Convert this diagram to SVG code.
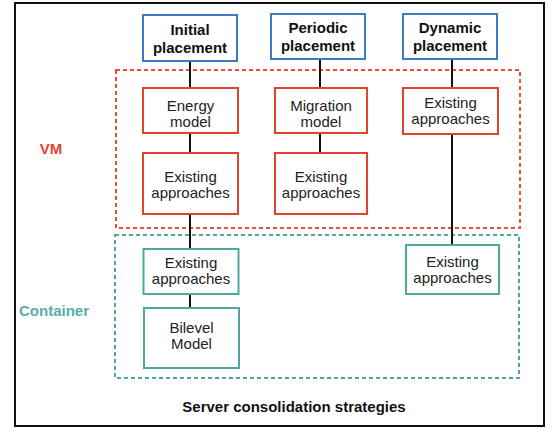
<svg xmlns="http://www.w3.org/2000/svg" width="560" height="436" viewBox="0 0 560 436">
<style>
text{font-family:"Liberation Sans",Arial,sans-serif;text-anchor:middle}
.t{font-size:15px;fill:#222}
.h{font-size:15px;font-weight:bold;fill:#111}
.blue{fill:#fff;stroke:#3d7cc4;stroke-width:2}
.red{fill:#fff;stroke:#e0432e;stroke-width:2}
.teal{fill:#fff;stroke:#4ea89f;stroke-width:2}
.con line{stroke:#111;stroke-width:2}
</style>
<rect x="15" y="3" width="529" height="423" fill="#fff" stroke="#111" stroke-width="2"/>
<g id="vm-group">
<rect x="116" y="70" width="404" height="158" fill="none" stroke="#e8503a" stroke-width="2" stroke-dasharray="4 3"/>
<text x="51" y="154" font-size="15" font-weight="bold" fill="#e0432e">VM</text>
</g>
<g id="container-group">
<rect x="115" y="235" width="404" height="143" fill="none" stroke="#4ea89f" stroke-width="2" stroke-dasharray="4 3"/>
<text x="54" y="316" font-size="15" font-weight="bold" fill="#55afa6">Container</text>
</g>
<g class="con" id="connectors">
<line x1="190" y1="61" x2="190" y2="88"/>
<line x1="190" y1="133" x2="190" y2="153"/>
<line x1="190" y1="214" x2="190" y2="249"/>
<line x1="190" y1="294" x2="190" y2="308"/>
<line x1="320" y1="59" x2="320" y2="88"/>
<line x1="320" y1="133" x2="320" y2="153"/>
<line x1="452" y1="59" x2="452" y2="88"/>
<line x1="452" y1="134" x2="452" y2="245"/>
</g>
<g id="initial">
<rect class="blue" x="143" y="15" width="94" height="46"/>
<text class="h" x="190" y="35">Initial</text>
<text class="h" x="190" y="53">placement</text>
</g>
<g id="periodic">
<rect class="blue" x="271" y="14" width="94" height="45"/>
<text class="h" x="318" y="33">Periodic</text>
<text class="h" x="318" y="51">placement</text>
</g>
<g id="dynamic">
<rect class="blue" x="403" y="14" width="94" height="45"/>
<text class="h" x="450" y="33">Dynamic</text>
<text class="h" x="450" y="51">placement</text>
</g>
<g id="energy">
<rect class="red" x="143" y="88" width="95" height="45"/>
<text class="t" x="190.5" y="111">Energy</text>
<text class="t" x="190.5" y="127">model</text>
</g>
<g id="migration">
<rect class="red" x="275" y="88" width="92" height="45"/>
<text class="t" x="321" y="111">Migration</text>
<text class="t" x="321" y="127">model</text>
</g>
<g id="vm-dynamic-existing">
<rect class="red" x="403" y="88" width="95" height="46"/>
<text class="t" x="450.5" y="108">Existing</text>
<text class="t" x="450.5" y="124">approaches</text>
</g>
<g id="vm-initial-existing">
<rect class="red" x="143" y="153" width="95" height="61"/>
<text class="t" x="190.5" y="182">Existing</text>
<text class="t" x="190.5" y="198">approaches</text>
</g>
<g id="vm-periodic-existing">
<rect class="red" x="275" y="153" width="92" height="61"/>
<text class="t" x="321" y="182">Existing</text>
<text class="t" x="321" y="198">approaches</text>
</g>
<g id="ct-initial-existing">
<rect class="teal" x="143.5" y="249" width="95" height="45"/>
<text class="t" x="191" y="268">Existing</text>
<text class="t" x="191" y="284">approaches</text>
</g>
<g id="bilevel">
<rect class="teal" x="144" y="308" width="95" height="60"/>
<text class="t" x="191.5" y="333">Bilevel</text>
<text class="t" x="191.5" y="349">Model</text>
</g>
<g id="ct-dynamic-existing">
<rect class="teal" x="406" y="245" width="93" height="49"/>
<text class="t" x="452.5" y="267">Existing</text>
<text class="t" x="452.5" y="283">approaches</text>
</g>
<text class="h" x="294" y="412">Server consolidation strategies</text>
</svg>
